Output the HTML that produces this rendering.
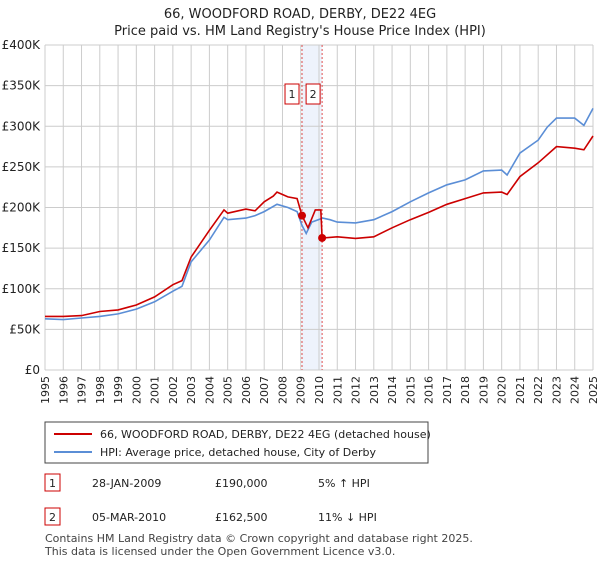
<!DOCTYPE html>
<html><head><meta charset="utf-8"><style>
body{margin:0;background:#fff;font-family:"Liberation Sans","DejaVu Sans",sans-serif;}
svg text{font-family:"DejaVu Sans","Liberation Sans",sans-serif;}
</style></head><body>
<svg id="chart" width="600" height="560" viewBox="0 0 600 560" xmlns="http://www.w3.org/2000/svg">
<text x="300" y="18" text-anchor="middle" font-size="13" fill="#222">66, WOODFORD ROAD, DERBY, DE22 4EG</text>
<text x="300" y="35" text-anchor="middle" font-size="13" fill="#222">Price paid vs. HM Land Registry's House Price Index (HPI)</text>
<g id="grid"></g><g id="axes"></g><g id="series"></g>
<g>
<rect x="45" y="422" width="383" height="41" fill="#fff" stroke="#444"/>
<line x1="54" y1="434" x2="92" y2="434" stroke="#cc0000" stroke-width="2"/>
<text x="100" y="438" font-size="11" fill="#222">66, WOODFORD ROAD, DERBY, DE22 4EG (detached house)</text>
<line x1="54" y1="452" x2="92" y2="452" stroke="#5b8ed6" stroke-width="2"/>
<text x="100" y="456" font-size="11" fill="#222">HPI: Average price, detached house, City of Derby</text>
</g>
<g font-size="11" fill="#222">
<rect x="45" y="474" width="15" height="17" fill="#fff" stroke="#cc0000"/><text x="52.5" y="487" text-anchor="middle">1</text>
<text x="92" y="487">28-JAN-2009</text><text x="215" y="487">£190,000</text><text x="318" y="487">5% ↑ HPI</text>
<rect x="45" y="508" width="15" height="17" fill="#fff" stroke="#cc0000"/><text x="52.5" y="521" text-anchor="middle">2</text>
<text x="92" y="521">05-MAR-2010</text><text x="215" y="521">£162,500</text><text x="318" y="521">11% ↓ HPI</text>
</g>
<text x="45" y="542" font-size="11" fill="#444">Contains HM Land Registry data © Crown copyright and database right 2025.</text>
<text x="45" y="555" font-size="11" fill="#444">This data is licensed under the Open Government Licence v3.0.</text>
</svg>
<script>
const yearTicks=[1995,1996,1997,1998,1999,2000,2001,2002,2003,2004,2005,2006,2007,2008,2009,2010,2011,2012,2013,2014,2015,2016,2017,2018,2019,2020,2021,2022,2023,2024,2025];
const valueTicks=[0,50000,100000,150000,200000,250000,300000,350000,400000];
const valueLabels=["£0","£50K","£100K","£150K","£200K","£250K","£300K","£350K","£400K"];
const hpiYears=[1995,1996,1997,1998,1999,2000,2001,2002,2002.5,2003,2004,2004.8,2005,2006,2006.5,2007,2007.7,2008.3,2008.8,2009.07,2009.3,2009.6,2010.2,2010.6,2011,2012,2013,2014,2015,2016,2017,2018,2019,2020,2020.3,2021,2022,2022.5,2023,2024,2024.5,2025];
const hpiValues=[63000,62000,64000,66000,69000,75000,84000,97000,103000,133000,160000,188000,185000,187000,190000,195000,204000,200000,195000,178000,168000,182000,187000,185000,182000,181000,185000,195000,207000,218000,228000,234000,245000,246000,240000,267000,283000,299000,310000,310000,301000,322000];
const ppYears=[1995,1996,1997,1998,1999,2000,2001,2002,2002.5,2003,2004,2004.8,2005,2006,2006.5,2007,2007.5,2007.7,2008.3,2008.8,2009.07,2009.4,2009.8,2010.1,2010.17,2011,2012,2013,2014,2015,2016,2017,2018,2019,2020,2020.3,2021,2022,2023,2024,2024.5,2025];
const ppValues=[66000,66000,67000,72000,74000,80000,90000,105000,110000,139000,172000,197000,193000,198000,196000,207000,214000,219000,213000,211000,190000,175000,197000,197000,162500,164000,162000,164000,175000,185000,194000,204000,211000,218000,219000,216000,238000,255000,275000,273000,271000,288000];
const sales=[[2009.07,190000,"1"],[2010.17,162500,"2"]];
const X0=45,X1=593,Y0=370,Y1=45;
const xs=y=>X0+(y-1995)/30*(X1-X0);
const ys=v=>Y0-v/400000*(Y0-Y1);
const NS="http://www.w3.org/2000/svg";
function mk(tag,attrs,parent,text){const e=document.createElementNS(NS,tag);for(const k in attrs)e.setAttribute(k,attrs[k]);if(text!==undefined)e.textContent=text;parent.appendChild(e);return e;}
const grid=document.getElementById('grid'),axes=document.getElementById('axes'),ser=document.getElementById('series');
const shade=mk('rect',{x:xs(sales[0][0]),y:Y1,width:xs(sales[1][0])-xs(sales[0][0]),height:Y0-Y1,fill:'#eef3fc'},grid);


yearTicks.forEach(t=>{
 const l=mk('line',{x1:xs(t),x2:xs(t),y1:Y1,y2:Y0,stroke:'#cccccc'},grid);
 
 
 const tx=mk('text',{x:0,y:0,'font-size':11,fill:'#222','text-anchor':'end',transform:`translate(${xs(t)+4},${Y0+6}) rotate(-90)`},axes,String(t));
 
 
});
valueTicks.forEach((v,i)=>{
 const l=mk('line',{x1:X0,x2:X1,y1:ys(v),y2:ys(v),stroke:'#cccccc'},grid);
 
 
 const tx=mk('text',{x:X0-5,y:ys(v)+4,'font-size':12,fill:'#222','text-anchor':'end'},axes,valueLabels[i]);
 
 
});
sales.forEach(s=>{
 const l=mk('line',{x1:xs(s[0]),x2:xs(s[0]),y1:Y1,y2:Y0,stroke:'#e05050','stroke-dasharray':'2,2'},grid);
 
 
});
function line(xsArr,vals,color,name){
 const p=mk('polyline',{points:xsArr.map((y,i)=>xs(y).toFixed(1)+','+ys(vals[i]).toFixed(1)).join(' '),fill:'none',stroke:color,'stroke-width':1.6},ser);
 
 
}
line(hpiYears,hpiValues,'#5b8ed6','hpi-line');
line(ppYears,ppValues,'#cc0000','price-paid-line');
sales.forEach(s=>{
 const c=mk('circle',{cx:xs(s[0]),cy:ys(s[1]),r:4,fill:'#cc0000'},ser);
 
 
 const g=mk('g',{},ser);
 
 
 const bx=s[2]==="1"?xs(s[0])-10:xs(s[0])-9;
 mk('rect',{x:bx-7,y:84,width:14,height:20,fill:'#fff',stroke:'#cc0000'},g);
 mk('text',{x:bx,y:98,'text-anchor':'middle','font-size':11,fill:'#222'},g,s[2]);
});
</script>
</body></html>
